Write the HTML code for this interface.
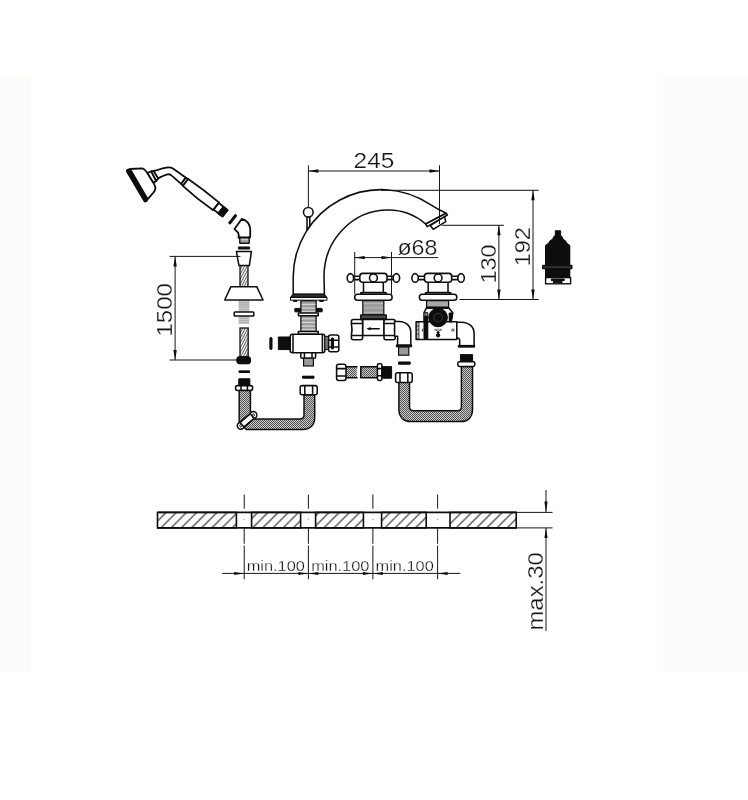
<!DOCTYPE html>
<html>
<head>
<meta charset="utf-8">
<title>Faucet technical drawing</title>
<style>
html,body{margin:0;padding:0;background:#fff;}
body{width:748px;height:800px;overflow:hidden;font-family:"Liberation Sans",sans-serif;}
svg{display:block;}
text{font-family:"Liberation Sans",sans-serif;fill:#161616;stroke:#fff;stroke-width:0.25;}
.o{fill:#fff;stroke:#111;stroke-width:1.55;stroke-linejoin:round;stroke-linecap:round;}
.n{fill:none;stroke:#111;stroke-width:1.55;stroke-linejoin:round;stroke-linecap:round;}
#handset .o,#handset .n{stroke-width:1.8;}
.t{fill:none;stroke:#222;stroke-width:0.9;}
.d{fill:none;stroke:#151515;stroke-width:1;}
.k{fill:#080808;stroke:#080808;stroke-width:1;stroke-linejoin:round;}
.g{fill:#9a9a9a;stroke:#111;stroke-width:1.2;}
.ar{fill:#111;stroke:none;}
</style>
</head>
<body>
<svg width="748" height="800" viewBox="0 0 748 800">
<defs>
  <pattern id="mesh" width="2" height="2" patternUnits="userSpaceOnUse">
    <rect width="2" height="2" fill="#c8c8c8"/>
    <rect width="1" height="1" fill="#555"/>
    <rect x="1" y="1" width="1" height="1" fill="#555"/>
  </pattern>
  <pattern id="braid" width="2.3" height="8" patternUnits="userSpaceOnUse" patternTransform="rotate(28)">
    <rect width="2.3" height="8" fill="#f4f4f4"/>
    <rect width="0.9" height="8" fill="#5a5a5a"/>
  </pattern>
  <pattern id="thread3" width="4" height="2.2" patternUnits="userSpaceOnUse">
    <rect width="4" height="2.2" fill="#b2b2b2"/>
    <rect width="4" height="0.6" fill="#d4d4d4"/>
  </pattern>
  <pattern id="thread" width="4" height="3.6" patternUnits="userSpaceOnUse" y="301.4">
    <rect width="4" height="3.6" fill="#9a9a9a"/>
    <rect y="2.5" width="4" height="1" fill="#e6e6e6"/>
  </pattern>
  <pattern id="thread2" width="4" height="4.3" patternUnits="userSpaceOnUse" y="300.6">
    <rect width="4" height="4.3" fill="#9c9c9c"/>
    <rect y="2.6" width="4" height="0.9" fill="#bdbdbd"/>
  </pattern>
  <pattern id="hatch" width="7.2" height="7.2" patternUnits="userSpaceOnUse" patternTransform="translate(1.5,0) rotate(45)">
    <rect width="7.2" height="7.2" fill="#fff"/>
    <line x1="3.6" y1="0" x2="3.6" y2="7.2" stroke="#111" stroke-width="1"/>
  </pattern>
  <filter id="soft" x="0" y="0" width="748" height="800" filterUnits="userSpaceOnUse">
    <feGaussianBlur stdDeviation="0.4"/>
  </filter>
</defs>
<rect width="748" height="800" fill="#fff"/>
<rect x="0" y="77" width="30.5" height="595" fill="#fdfcfa"/>
<rect x="657" y="77" width="91" height="595" fill="#fdfcfa"/>
<g filter="url(#soft)">


<g id="handset">
  <!-- head body -->
  <path class="o" d="M130,169 L142.1,168.4 C143.6,168.6 144.4,169.3 144.9,170 L147.4,173 L153.4,182.7 C154.6,185 155.4,186.6 155.4,188.1 C155.3,189.8 154.5,191.4 153.4,192.7 L147.7,199.1 Z"/>
  <!-- face band -->
  <line x1="128.4" y1="171" x2="145.5" y2="200" stroke="#080808" stroke-width="4.7" stroke-linecap="round"/>
  <!-- curved arm -->
  <path class="o" d="M153.6,171.2 C158,169.6 163.5,167.8 168.1,167.3 C170.3,167.2 171.8,167.7 172.9,168.4 L185.6,177.6 L181.4,184.1 L171.7,175.6 C170.4,174.4 169,174 167.5,174.4 C164.4,175.2 161.4,176.7 158,178.4 Z"/>
  <!-- neck collar -->
  <path class="o" d="M147.4,173 L151.3,171.3 L156.2,181 L153.4,182.7 Z" stroke-width="1.4"/>
  <path class="o" d="M151.3,171.3 L153.5,170.9 L158.2,178.6 L156.2,181 Z" stroke-width="1.4"/>
  <!-- handle -->
  <g transform="translate(183.5,180.8) rotate(38)">
    <rect class="o" x="0" y="-4.1" width="2.6" height="8.2" rx="0.8"/>
    <path class="o" d="M2.6,-4.4 Q22,-5.5 41.5,-4.8 L41.5,4.8 Q22,6.1 2.6,4.4 Z"/>
    <line class="n" x1="41.5" y1="-4.8" x2="41.5" y2="4.8" stroke-width="2.2"/>
    <rect class="o" x="41.5" y="-4.2" width="6" height="8.4"/>
    <rect class="k" x="47.3" y="-4.7" width="6" height="9.4" rx="1"/>
    <rect class="k" x="61.4" y="-5.4" width="2" height="10.8" rx="0.5"/>
  </g>
  <!-- elbow -->
  <path class="o" d="M241.7,218.9 L234.5,229.1 L238.1,232.7 C238.8,234.3 238.8,236 238.7,237.5 L240,237.5 L240,243 L249,243 L249,237.5 L250.2,236.3 L250.2,228.5 C249.6,223.6 246.2,220.2 241.7,218.9 Z"/>
  <rect x="240.6" y="238.3" width="7.8" height="4.2" fill="url(#thread)"/>
  <line class="n" x1="238.7" y1="237.5" x2="250" y2="237.5"/>
  <!-- washer -->
  <rect class="k" x="238.4" y="247" width="11.2" height="2"/>
</g>
<g id="hosecol">
  <!-- hose segments -->
  <rect x="240" y="265" width="8" height="22" fill="url(#braid)" stroke="#111" stroke-width="1.3"/>
  <rect x="240" y="328" width="8.2" height="29" fill="url(#braid)" stroke="#111" stroke-width="1.3"/>
  <!-- connector cone -->
  <path class="o" d="M236.4,251.4 L251.4,251.4 L249.4,265.4 L238.9,265.4 Z"/>
  <!-- threaded stem -->
  <rect x="238.6" y="300.4" width="10.8" height="23.6" fill="url(#thread3)"/>
  <!-- escutcheon -->
  <path class="o" d="M230.8,286.8 L256.9,286.8 L263,300 L224.7,300 Z"/>
  <!-- nut -->
  <rect class="o" x="234.2" y="312" width="19.6" height="4" rx="0.8" stroke-width="1.3"/>
  <!-- black end -->
  <rect class="k" x="236.8" y="356.6" width="13.8" height="7.2" rx="2.6"/>
  <!-- washers -->
  <rect class="k" x="239" y="370.9" width="10.6" height="1.6"/>
  <!-- black block + nut -->
  <rect class="k" x="238.8" y="378.8" width="11" height="7"/>
  <rect class="o" x="235.6" y="385.6" width="17" height="4.8" rx="1.8"/>
  <path class="n" d="M241,385.8 v4.4 M247.4,385.8 v4.4" stroke-width="1.1"/>
</g>
<g id="spout">
  <!-- lever ball + stem -->
  <path class="o" d="M307,216.5 L307,229.6 L309.8,226.4 L309.8,216.5 Z" stroke-width="1.2"/>
  <circle class="o" cx="308.3" cy="212.3" r="4.8"/>
  <!-- spout body -->
  <path class="o" d="M293.2,294.4 L293.2,277.2 A88,88 0 0 1 430,204.4 Q438,209.5 446.1,213.3 L425.7,224 A60.4,66.5 0 0 0 388,210 A64,66.5 0 0 0 324,276.5 L324.4,294.4 Z"/>
  <!-- aerator tip -->
  <path class="o" d="M430.2,225.6 L433.3,229.3 L445.7,221.7 L444.6,216.4 Z" stroke-width="1.4"/>
  <path class="o" d="M425.7,224 L446.1,213.3 L447.4,215 L427.2,226.7 Z" stroke-width="1.4"/>
  <!-- base flange -->
  <path d="M293.4,294.2 L323.9,294.2 L326.7,297.3 L290.6,297.3 Z" fill="#2e2e2e" stroke="#111" stroke-width="1.2" stroke-linejoin="round"/>
  <rect x="290.5" y="297.5" width="36.4" height="2.7" fill="#fff" stroke="#111" stroke-width="1"/>
  <rect class="k" x="293.4" y="300.4" width="3.6" height="0.9"/>
  <rect class="k" x="319.6" y="300.4" width="3.8" height="0.9"/>

</g>
<g id="diverter">
  <!-- black nut -->
  <rect class="k" x="294.8" y="308.4" width="27.4" height="3.4" rx="0.6"/>
  <!-- threaded stem -->
  <rect x="300.9" y="300.8" width="15.2" height="31.4" fill="url(#thread)" stroke="#111" stroke-width="1.3"/>
  <rect class="o" x="298.4" y="312.9" width="19.8" height="2.9" stroke-width="1.1"/>
  <rect class="o" x="298.4" y="331.4" width="19.8" height="2.8" stroke-width="1.1"/>
  <!-- body -->
  <rect class="o" x="290.2" y="334.2" width="34.6" height="18.6" rx="2.2"/>
  <line class="n" x1="293" y1="335" x2="293" y2="352"/>
  <line class="n" x1="322.4" y1="335" x2="322.4" y2="352"/>
  <!-- black left inlet -->
  <rect class="k" x="278.4" y="337" width="11.6" height="12.6"/>
  <!-- washer bars -->
  <rect class="k" x="269.9" y="337.6" width="2.1" height="11.8" rx="0.6"/>
  <rect class="k" x="277.3" y="337.6" width="0.1" height="0.1"/>
  <!-- right nut -->
  <rect x="324.8" y="336.4" width="3.8" height="13.2" fill="#777" stroke="#111" stroke-width="1"/>
  <rect class="o" x="328.6" y="334.9" width="10.2" height="16.9" rx="2"/>
  <line class="n" x1="329" y1="340.2" x2="338.4" y2="340.2" stroke-width="1.2"/>
  <line class="n" x1="329" y1="347" x2="338.4" y2="347" stroke-width="1.2"/>
  <rect class="k" x="331.3" y="338" width="2.2" height="11" rx="0.6"/>
  <!-- bottom nut -->
  <rect class="o" x="300.8" y="352.8" width="14.8" height="5.4" rx="1.2"/>
  <line class="n" x1="304.4" y1="353" x2="304.4" y2="358"/>
  <line class="n" x1="312" y1="353" x2="312" y2="358"/>
  <rect class="g" x="303.6" y="358.2" width="9.8" height="7.8"/>
  <rect class="k" x="302.6" y="376.2" width="11.4" height="2"/>
</g>
<g id="valveL">
  <g transform="translate(373.4,277.9)">
    <!-- stem/bell -->
    <path class="o" d="M-9.9,3 L-9.9,14.4 L-12.6,14.8 L-12.6,16.4 L12.6,16.4 L12.6,14.8 L9.9,14.4 L9.9,3 Z"/>
    <line class="n" x1="-10" y1="14.5" x2="10" y2="14.5" stroke-width="1.2"/>
    <!-- arms -->
    <rect class="o" x="-20" y="-1.7" width="40" height="3.4"/>
    <ellipse class="o" cx="-23" cy="0" rx="3.2" ry="4.3"/>
    <ellipse class="o" cx="23" cy="0" rx="3.2" ry="4.3"/>
    <rect class="o" x="-13.6" y="-4.5" width="27.2" height="8.9" rx="3"/>
    <circle class="o" cx="0" cy="0" r="3.9"/>
    <!-- flange -->
    <rect class="o" x="-18.7" y="16.4" width="37.4" height="6" rx="2.8"/>
  </g>
  <rect x="362.8" y="300.6" width="21" height="14.4" fill="url(#thread2)" stroke="#111" stroke-width="1.2"/>
  <rect x="360.6" y="314.9" width="25.8" height="4" rx="0.8" fill="#4a4a4a" stroke="#080808" stroke-width="1.3"/>
  <!-- body -->
  <rect class="o" x="362.6" y="319.5" width="21.4" height="15.9"/>
  <path class="o" d="M353.4,319.4 L360.6,319.4 Q362.6,319.4 362.6,321.4 L362.6,337.8 Q362.6,339.8 360.6,339.8 L353.4,339.8 Q351.4,339.8 351.4,337.8 L351.4,335.4 Q352.6,329.4 351.4,323.6 L351.4,321.4 Q351.4,319.4 353.4,319.4 Z"/>
  <path class="o" d="M386,319.4 L393.2,319.4 Q395.2,319.4 395.2,321.4 L395.2,323.6 Q394,329.4 395.2,335.4 L395.2,337.8 Q395.2,339.8 393.2,339.8 L386,339.8 Q384,339.8 384,337.8 L384,321.4 Q384,319.4 386,319.4 Z"/>
  <line class="n" x1="352" y1="323.4" x2="362.4" y2="323.4"/>
  <line class="n" x1="352" y1="335.5" x2="362.4" y2="335.5"/>
  <line class="n" x1="384.2" y1="323.4" x2="394.8" y2="323.4"/>
  <line class="n" x1="384.2" y1="335.5" x2="394.8" y2="335.5"/>
  <!-- arrow -->
  <line class="n" x1="368.6" y1="328.7" x2="379.2" y2="328.7" stroke-width="1.3"/>
  <path class="ar" d="M366.2,328.7 L370.6,327.1 L370.6,330.3 Z"/>
  <!-- elbow -->
  <path class="o" d="M394.6,321.4 L399,321.4 C406.4,321.6 410.8,326 410.8,332.6 L410.8,345.4 L397.6,345.4 L397.6,336.3 L394.6,336.3 Z"/>
  <rect class="k" x="396.3" y="344.9" width="15.4" height="1.9"/>
  <rect class="g" x="398.6" y="347" width="10.2" height="8.2"/>

</g>
<g id="valveR">
  <g transform="translate(438.1,277.9)">
    <!-- stem/bell -->
    <path class="o" d="M-9.9,3 L-9.9,14.4 L-12.6,14.8 L-12.6,16.4 L12.6,16.4 L12.6,14.8 L9.9,14.4 L9.9,3 Z"/>
    <line class="n" x1="-10" y1="14.5" x2="10" y2="14.5" stroke-width="1.2"/>
    <!-- arms -->
    <rect class="o" x="-20" y="-1.7" width="40" height="3.4"/>
    <ellipse class="o" cx="-23" cy="0" rx="3.2" ry="4.3"/>
    <ellipse class="o" cx="23" cy="0" rx="3.2" ry="4.3"/>
    <rect class="o" x="-13.6" y="-4.5" width="27.2" height="8.9" rx="3"/>
    <circle class="o" cx="0" cy="0" r="3.9"/>
    <!-- flange -->
    <rect class="o" x="-18.7" y="16.4" width="37.4" height="6" rx="2.8"/>
  </g>
  <rect x="426.6" y="300.7" width="22" height="6.9" fill="#a8a8a8" stroke="#111" stroke-width="1.2"/>
  <rect class="k" x="426.4" y="307" width="22.4" height="1.4"/>
  <!-- body -->
  <rect class="o" x="416.1" y="321.8" width="40.7" height="17.6"/>
  <path class="n" d="M426.4,308 L424.2,312.4 L424.2,322" stroke-width="1.3"/>
  <path class="n" d="M448.8,308 L452.6,312.4 L451,322" stroke-width="1.3"/>
  <rect class="k" x="424" y="315.6" width="3.8" height="23"/>
  <rect x="424" y="312.6" width="3.8" height="3.6" fill="#777" stroke="#111" stroke-width="0.8"/>
  <path class="k" d="M449.2,313 L453,313 L451.4,321.6 L449.2,321.6 Z"/>
  <rect x="416.6" y="322.6" width="2.4" height="16" fill="#bbb" stroke="#111" stroke-width="0.7"/>
  <path d="M416.6,326 h2.4 M416.6,330 h2.4 M416.6,334 h2.4" stroke="#111" stroke-width="0.7"/>
  <circle class="k" cx="438.1" cy="317.5" r="9.3"/>
  <circle cx="438.1" cy="317.5" r="4.3" fill="none" stroke="#3c3c3c" stroke-width="1"/>
  <circle class="k" cx="438.1" cy="335.3" r="1.7"/>
  <path class="k" d="M436.8,333 L438.1,331.2 L439.4,333 Z"/>
  <path d="M435.6,328.8 l1.6,2.4 M440.8,328.8 l-1.6,2.4 M434.2,330 h2.4 M439.6,330 h2.6 M438.1,328.4 v2.6" stroke="#222" stroke-width="0.7" fill="none"/>
  <path d="M452,331.6 v-2.4 h1.8 v2.4" stroke="#111" stroke-width="0.8" fill="none"/>
  <path d="M422.4,331.6 v-2.4 h1.2" stroke="#111" stroke-width="0.8" fill="none"/>
  <!-- elbow -->
  <path class="o" d="M456.8,322.2 L461.4,322.2 C469,322.4 474.1,326.6 474.1,333.4 L474.1,346 L459.7,346 L459.7,340.4 C459.6,338.6 458.6,337.8 456.8,337.7 Z"/>
  <rect class="k" x="458.3" y="345.4" width="16.4" height="1.7"/>

</g>
<g id="hoses">
  <!-- left L hose: from shower column down and across to diverter -->
  <path d="M239.2,390.4 L239.2,422.4 L246.4,429.5 L303,429.5 C310,429.4 314.6,425 314.7,418 L314.7,394.7 L304,394.7 L304,415 C304,417.6 302.6,419 300,419.1 L254,419.1 C251.6,419 250.5,417.4 250.4,415 L250.4,390.4 Z" fill="url(#mesh)" stroke="#111" stroke-width="1.5" stroke-linejoin="round"/>
  <!-- clamp -->
  <g transform="translate(247.1,420.4) rotate(-40.3)">
    <circle class="o" cx="-8.2" cy="0" r="3.5"/>
    <circle class="o" cx="8.2" cy="0" r="3.5"/>
    <rect class="o" x="-6.6" y="-3.1" width="13.2" height="6.2" stroke="none"/>
    <path class="n" d="M-6.8,-3.1 L6.8,-3.1 M-6.8,3.1 L6.8,3.1"/>
    <circle cx="-8.2" cy="0" r="1.2" fill="#ccc" stroke="#222" stroke-width="0.9"/>
    <circle cx="8.2" cy="0" r="1.2" fill="#ccc" stroke="#222" stroke-width="0.9"/>
  </g>
  <!-- nut on right end of left hose -->
  <rect class="o" x="300.2" y="385.6" width="17" height="9.2" rx="2"/>
  <line class="n" x1="304.8" y1="386" x2="304.8" y2="394.4"/>
  <line class="n" x1="312.6" y1="386" x2="312.6" y2="394.4"/>

  <!-- horizontal connector pieces -->
  <rect x="345.6" y="366.8" width="11.2" height="11" fill="url(#mesh)"/>
  <path class="n" d="M345.6,366.8 h11.4 M345.6,377.8 h11.4" stroke-width="1.5"/>
  <rect class="o" x="336.6" y="364.2" width="9.4" height="16.2" rx="2.2"/>
  <line class="n" x1="337" y1="368.6" x2="345.6" y2="368.6"/>
  <line class="n" x1="337" y1="376" x2="345.6" y2="376"/>
  <rect x="360.8" y="366.8" width="17" height="11" fill="url(#mesh)"/>
  <path class="n" d="M360.6,366.8 h17 M360.6,377.8 h17 M360.8,366.8 v11" stroke-width="1.5"/>
  <rect class="o" x="377.4" y="363.8" width="4.6" height="16.6" rx="1.6"/>
  <path class="n" d="M377.6,368.6 h4.2 M377.6,375.8 h4.2" stroke-width="1.1"/>
  <rect class="k" x="381.8" y="366.6" width="9.8" height="11.6"/>

  <!-- right U hose -->
  <path d="M398.9,382.3 L398.9,410 C399.2,417 403.6,421.4 410.6,421.6 L461,421.6 C468,421.4 472.3,417 472.5,410 L472.5,366.4 L461.4,366.4 L461.4,407 C461.3,409.4 460,410.6 457.6,410.7 L413.4,410.7 C411,410.6 409.6,409.4 409.5,407 L409.5,382.3 Z" fill="url(#mesh)" stroke="#111" stroke-width="1.5" stroke-linejoin="round"/>
  <rect class="k" x="398.6" y="362" width="11.6" height="2.2"/>
  <rect class="o" x="395.6" y="372.8" width="16.6" height="9.6" rx="2"/>
  <line class="n" x1="400" y1="373.2" x2="400" y2="382"/>
  <line class="n" x1="407.8" y1="373.2" x2="407.8" y2="382"/>
  <rect class="k" x="460.4" y="354.6" width="12.2" height="7.4"/>
  <rect class="o" x="457.8" y="361.8" width="17" height="4.6" rx="1.6"/>
</g>
<g id="cartridge">
  <path class="k" d="M555.3,230.8 L560.6,230.8 L560.6,235.1 L562.6,237.6 L562.6,238.6 L566.2,241.6 L566.2,242.8 L569.8,245.4 L569.8,265.3 L572,265.3 L572,268.8 L569.8,268.8 L569.8,277.6 L545.5,277.6 L545.5,268.8 L542.6,268.8 L542.6,265.3 L545.5,265.3 L545.5,245.4 L549.2,242.8 L549.2,241.6 L553.2,238.6 L553.2,237.6 L555.3,235.1 Z"/>
  <line x1="543.4" y1="267.1" x2="571.4" y2="267.1" stroke="#666" stroke-width="0.8"/>
  <rect x="545.6" y="277.6" width="25" height="6.2" fill="#fff" stroke="#111" stroke-width="1.4"/>
  <rect class="k" x="551.4" y="279" width="12.8" height="1.6"/>
  <rect class="k" x="553.4" y="281.2" width="8.6" height="1.6"/>
</g>
<g id="dims">
  <!-- 245 -->
  <line class="d" x1="308.4" y1="165.3" x2="308.4" y2="207.6"/>
  <line class="d" x1="439.5" y1="165.3" x2="439.5" y2="224"/>
  <line class="d" x1="308.4" y1="171" x2="439.5" y2="171"/>
  <path class="ar" d="M308.4,171 L318.4,169.3 L318.4,172.7 Z"/><path class="ar" d="M439.5,171 L429.5,169.3 L429.5,172.7 Z"/>
  <text transform="translate(353.58,167.8) scale(1.096,1)" font-size="22.3">245</text>
  <!-- 192 / 130 -->
  <line class="d" x1="381" y1="190.3" x2="538.6" y2="190.3"/>
  <line class="d" x1="442.1" y1="225.3" x2="503.9" y2="225.3"/>
  <line class="d" x1="459.5" y1="299.5" x2="538.6" y2="299.5"/>
  <line class="d" x1="498.9" y1="225.3" x2="498.9" y2="299.5"/>
  <line class="d" x1="533" y1="190.3" x2="533" y2="299.5"/>
  <path class="ar" d="M498.9,225.3 L497.2,235.3 L500.59999999999997,235.3 Z"/><path class="ar" d="M498.9,299.5 L497.2,289.5 L500.59999999999997,289.5 Z"/><path class="ar" d="M533,190.3 L531.3,200.3 L534.7,200.3 Z"/><path class="ar" d="M533,299.5 L531.3,289.5 L534.7,289.5 Z"/>
  <text transform="translate(496,283.57) rotate(-90) scale(1.042,1)" font-size="22.6">130</text>
  <text transform="translate(529.9,266.36) rotate(-90) scale(1.040,1)" font-size="22.6">192</text>
  <!-- dia 68 -->
  <line class="d" x1="354.7" y1="252" x2="354.7" y2="294"/>
  <line class="d" x1="391.5" y1="252" x2="391.5" y2="294"/>
  <line class="d" x1="354.7" y1="257.6" x2="438.1" y2="257.6"/>
  <path class="ar" d="M354.7,257.6 L364.7,255.90000000000003 L364.7,259.3 Z"/><path class="ar" d="M391.5,257.6 L381.5,255.90000000000003 L381.5,259.3 Z"/>
  <text transform="translate(397.42,254.7) scale(1.057,1)" font-size="22">ø68</text>
  <!-- 1500 -->
  <line class="d" x1="169.6" y1="256.4" x2="240.4" y2="256.4"/>
  <line class="d" x1="169.6" y1="360" x2="237" y2="360"/>
  <line class="d" x1="175.1" y1="256.4" x2="175.1" y2="360"/>
  <path class="ar" d="M175.1,256.4 L173.4,266.4 L176.79999999999998,266.4 Z"/><path class="ar" d="M175.1,360 L173.4,350 L176.79999999999998,350 Z"/>
  <text transform="translate(172.3,336.50) rotate(-90) scale(1.090,1)" font-size="22">1500</text>
</g>
<g id="slab">
  <rect x="157.5" y="512.4" width="78.9" height="15.5" fill="url(#hatch)" stroke="#111" stroke-width="1.6"/>
  <rect x="251.6" y="512.4" width="49.0" height="15.5" fill="url(#hatch)" stroke="#111" stroke-width="1.6"/>
  <rect x="315.6" y="512.4" width="47.8" height="15.5" fill="url(#hatch)" stroke="#111" stroke-width="1.6"/>
  <rect x="381.6" y="512.4" width="44.6" height="15.5" fill="url(#hatch)" stroke="#111" stroke-width="1.6"/>
  <rect x="450" y="512.4" width="66.2" height="15.5" fill="url(#hatch)" stroke="#111" stroke-width="1.6"/>
  <line x1="157.5" y1="512.4" x2="516.2" y2="512.4" stroke="#111" stroke-width="1.6"/>
  <line x1="157.5" y1="527.9" x2="516.2" y2="527.9" stroke="#111" stroke-width="1.6"/>
  <line class="d" x1="244.2" y1="494.6" x2="244.2" y2="508.6"/>
  <line class="d" x1="244.2" y1="519" x2="244.2" y2="520.2" stroke-opacity="0.5"/>
  <line class="d" x1="244.2" y1="528" x2="244.2" y2="543.8"/>
  <line class="d" x1="244.2" y1="545.6" x2="244.2" y2="579.2"/>
  <line class="d" x1="308.4" y1="494.6" x2="308.4" y2="508.6"/>
  <line class="d" x1="308.4" y1="519" x2="308.4" y2="520.2" stroke-opacity="0.5"/>
  <line class="d" x1="308.4" y1="528" x2="308.4" y2="543.8"/>
  <line class="d" x1="308.4" y1="545.6" x2="308.4" y2="579.2"/>
  <line class="d" x1="372.9" y1="494.6" x2="372.9" y2="508.6"/>
  <line class="d" x1="372.9" y1="519" x2="372.9" y2="520.2" stroke-opacity="0.5"/>
  <line class="d" x1="372.9" y1="528" x2="372.9" y2="543.8"/>
  <line class="d" x1="372.9" y1="545.6" x2="372.9" y2="579.2"/>
  <line class="d" x1="437.6" y1="494.6" x2="437.6" y2="508.6"/>
  <line class="d" x1="437.6" y1="519" x2="437.6" y2="520.2" stroke-opacity="0.5"/>
  <line class="d" x1="437.6" y1="528" x2="437.6" y2="543.8"/>
  <line class="d" x1="437.6" y1="545.6" x2="437.6" y2="579.2"/>
  <line class="d" x1="222.2" y1="573.4" x2="460.3" y2="573.4"/>
  <path class="ar" d="M244.2,573.4 L234.2,571.9 L234.2,574.9 Z"/><path class="ar" d="M308.4,573.4 L298.4,571.9 L298.4,574.9 Z"/><path class="ar" d="M308.4,573.4 L318.4,571.9 L318.4,574.9 Z"/><path class="ar" d="M372.9,573.4 L362.9,571.9 L362.9,574.9 Z"/><path class="ar" d="M372.9,573.4 L382.9,571.9 L382.9,574.9 Z"/><path class="ar" d="M437.6,573.4 L447.6,571.9 L447.6,574.9 Z"/>
  <text transform="translate(246.64,570.5) scale(1.070,1)" font-size="15.3" stroke="#161616" stroke-width="0.25">min.100</text>
  <text transform="translate(311.14,570.5) scale(1.070,1)" font-size="15.3" stroke="#161616" stroke-width="0.25">min.100</text>
  <text transform="translate(375.54,570.5) scale(1.070,1)" font-size="15.3" stroke="#161616" stroke-width="0.25">min.100</text>
  <line class="d" x1="516.2" y1="512.4" x2="552.5" y2="512.4"/>
  <line class="d" x1="516.2" y1="527.9" x2="552.5" y2="527.9"/>
  <line class="d" x1="546" y1="490" x2="546" y2="512.4"/>
  <line class="d" x1="546" y1="527.9" x2="546" y2="631"/>
  <path class="ar" d="M546,512.4 L544.4,501.4 L547.6,501.4 Z"/><path class="ar" d="M546,527.9 L544.4,537.9 L547.6,537.9 Z"/>
  <text transform="translate(543.4,630.56) rotate(-90) scale(1.088,1)" font-size="22">max.30</text>
</g>
</g>
</svg>
</body>
</html>
